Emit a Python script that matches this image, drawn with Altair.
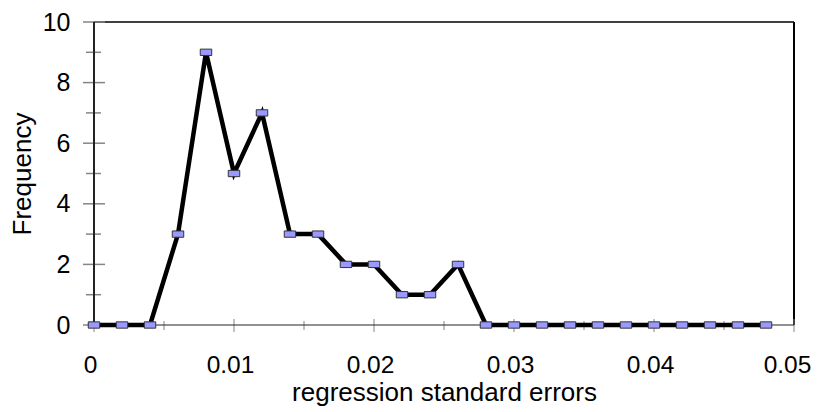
import altair as alt
import pandas as pd

# ---- data ----
x_values = [0.000, 0.002, 0.004, 0.006, 0.008, 0.010, 0.012, 0.014, 0.016,
            0.018, 0.020, 0.022, 0.024, 0.026, 0.028, 0.030, 0.032, 0.034,
            0.036, 0.038, 0.040, 0.042, 0.044, 0.046, 0.048]
frequency = [0, 0, 0, 3, 9, 5, 7, 3, 3, 2, 2, 1, 1, 2, 0, 0, 0, 0, 0, 0, 0,
             0, 0, 0, 0]
x_major_ticks = [0, 0.01, 0.02, 0.03, 0.04, 0.05]
x_minor_ticks = [0.005, 0.015, 0.025, 0.035, 0.045]
y_major_ticks = [0, 2, 4, 6, 8, 10]
y_minor_ticks = [1, 3, 5, 7, 9]
x_title = "regression standard errors"
y_title = "Frequency"

W, H = 700, 303
FONT = "Liberation Sans"
TICK_GRAY = "#858585"

xs = alt.Scale(domain=[0, 0.05], nice=False, zero=False)
ys = alt.Scale(domain=[0, 10], nice=False)

df = pd.DataFrame({"x": x_values, "y": frequency})
one = pd.DataFrame({"a": [0]})

x_axis = alt.Axis(values=x_major_ticks, format="~g", title=x_title,
                  ticks=False, tickSize=0, domain=False, grid=False,
                  labelFont=FONT, labelFontSize=24.5, labelColor="black",
                  labelPadding=28,
                  labelOffset={"condition": {"test": "datum.value >= 0.049",
                                             "value": -7},
                               "value": -4},
                  labelFlush=False, labelOverlap=False,
                  titleFont=FONT, titleFontSize=26, titleFontWeight="normal",
                  titleColor="black", titlePadding=3)
y_axis = alt.Axis(values=y_major_ticks, title=y_title,
                  ticks=False, tickSize=0, domain=False, grid=False,
                  labelFont=FONT, labelFontSize=25, labelColor="black",
                  labelPadding=24, labelFlush=False, labelOverlap=False,
                  titleFont=FONT, titleFontSize=26, titleFontWeight="normal",
                  titleColor="black", titlePadding=7)

# plot-area border (top and right)
top_border = alt.Chart(one).mark_rule(color="black", strokeWidth=1.5).encode(
    x=alt.X(datum=0, scale=xs, axis=x_axis), x2=alt.datum(0.05),
    y=alt.Y(datum=10, scale=ys, axis=y_axis))
right_border = alt.Chart(one).mark_rule(color="black", strokeWidth=2).encode(
    x=alt.X(datum=0.05, scale=xs, axis=x_axis),
    y=alt.Y(datum=0, scale=ys, axis=y_axis), y2=alt.datum(10))

# crossing tick marks
xt_major = alt.Chart(pd.DataFrame({"x": x_major_ticks})).mark_rule(
    color=TICK_GRAY, strokeWidth=1).encode(
    x=alt.X("x:Q", scale=xs, axis=x_axis),
    y=alt.value(H - 6), y2=alt.value(H + 7))
xt_minor = alt.Chart(pd.DataFrame({"x": x_minor_ticks})).mark_rule(
    color=TICK_GRAY, strokeWidth=1).encode(
    x=alt.X("x:Q", scale=xs, axis=x_axis),
    y=alt.value(H - 4), y2=alt.value(H + 5))
yt_major = alt.Chart(pd.DataFrame({"y": y_major_ticks})).mark_rule(
    color=TICK_GRAY, strokeWidth=1.5).encode(
    y=alt.Y("y:Q", scale=ys, axis=y_axis),
    x=alt.value(-11), x2=alt.value(11))
yt_minor = alt.Chart(pd.DataFrame({"y": y_minor_ticks})).mark_rule(
    color=TICK_GRAY, strokeWidth=1.5).encode(
    y=alt.Y("y:Q", scale=ys, axis=y_axis),
    x=alt.value(-8), x2=alt.value(7))

# axis lines
x_line = alt.Chart(one).mark_rule(color="#222222", strokeWidth=1).encode(
    x=alt.X(datum=0, scale=xs, axis=x_axis), x2=alt.datum(0.05),
    y=alt.Y(datum=0, scale=ys, axis=y_axis))
y_line = alt.Chart(one).mark_rule(color="#222222", strokeWidth=2).encode(
    x=alt.X(datum=0, scale=xs, axis=x_axis),
    y=alt.Y(datum=0, scale=ys, axis=y_axis), y2=alt.datum(10))

line = alt.Chart(df).mark_line(color="black", strokeWidth=4.5,
                               strokeJoin="miter").encode(
    x=alt.X("x:Q", scale=xs, axis=x_axis),
    y=alt.Y("y:Q", scale=ys, axis=y_axis))

rect_shape = "M-1,-0.55L1,-0.55L1,0.55L-1,0.55Z"
points = alt.Chart(df).mark_point(
    shape=rect_shape, size=132, filled=True, fill="#9999FF",
    stroke="#333333", strokeWidth=1, opacity=1).encode(
    x=alt.X("x:Q", scale=xs, axis=x_axis),
    y=alt.Y("y:Q", scale=ys, axis=y_axis))

chart = alt.layer(
    top_border, right_border, xt_major, xt_minor, yt_major, yt_minor,
    x_line, y_line, line, points
).properties(
    width=W, height=H,
    autosize=alt.AutoSizeParams(type="none"),
    padding={"left": 86, "top": 14, "right": 18, "bottom": 82},
    background="white",
).configure_view(stroke=None)

chart.save("out.html", embed_options={"renderer": "svg", "actions": False})
